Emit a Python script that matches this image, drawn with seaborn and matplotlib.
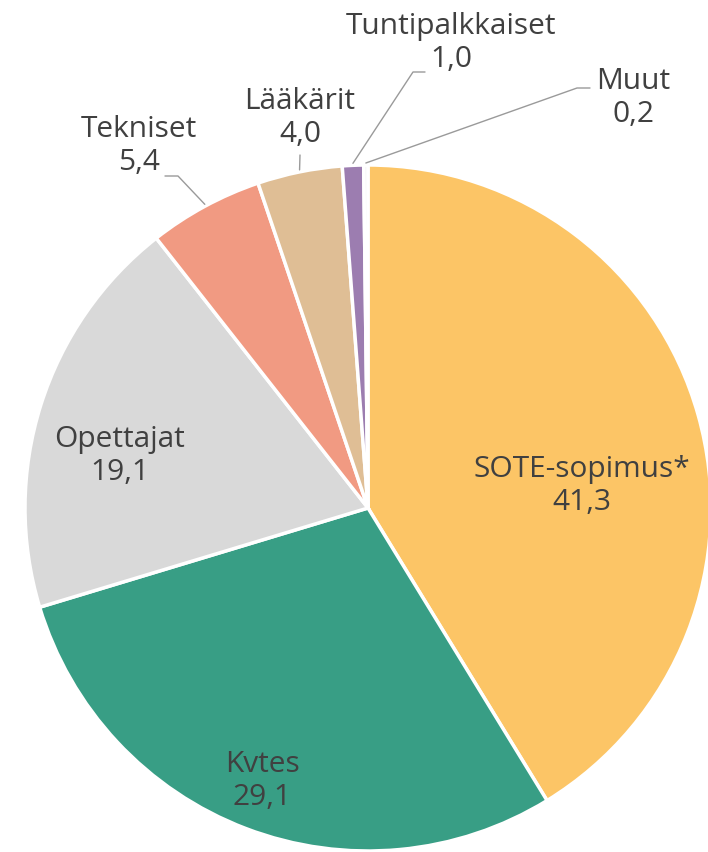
import numpy as np
import matplotlib
matplotlib.use("Agg")
import matplotlib.pyplot as plt
import seaborn as sns

# Data
categories = ["SOTE-sopimus*", "Kvtes", "Opettajat", "Tekniset", "Lääkärit", "Tuntipalkkaiset", "Muut"]
values = [41.3, 29.1, 19.1, 5.4, 4.0, 1.0, 0.2]
value_labels = ["41,3", "29,1", "19,1", "5,4", "4,0", "1,0", "0,2"]
colors = ["#FCC566", "#389E85", "#D9D9D9", "#F19A82", "#DFBE95", "#9C7DB0", "#F4F4F4"]

sns.set_theme(style="white")
plt.rcParams['font.family'] = ['Open Sans', 'DejaVu Sans']

W, H = 708, 852
fig = plt.figure(figsize=(W / 100, H / 100), dpi=100)
ax = fig.add_axes([0, 0, 1, 1])

cx, cy, r = 368, H - 508, 343
wedges, _ = ax.pie(values, colors=colors, startangle=90, counterclock=False,
                   center=(cx, cy), radius=r,
                   wedgeprops=dict(edgecolor="white", linewidth=2.5))
ax.set_xlim(0, W)
ax.set_ylim(0, H)
ax.set_aspect("equal")
ax.axis("off")

txt_color = "#404040"
fs = 21.5

# label block centres (pixels from top-left)
inside = {0: (582, 486), 1: (262, 781), 2: (120, 456)}
for i, (x, y) in inside.items():
    ax.text(x, H - y, f"{categories[i]}\n{value_labels[i]}", ha="center", va="center",
            fontsize=fs, color=txt_color, linespacing=1.2)

outside = {3: (139, 146), 4: (300, 118), 5: (451, 43), 6: (633, 98)}
for i, (x, y) in outside.items():
    ax.text(x, H - y, f"{categories[i]}\n{value_labels[i]}", ha="center", va="center",
            fontsize=fs, color=txt_color, linespacing=1.2)


def edge_point(w):
    ang = np.deg2rad((w.theta1 + w.theta2) / 2)
    return cx + r * np.cos(ang), cy + r * np.sin(ang)


line_kw = dict(color="#9a9a9a", lw=1.0)
# leader lines: wedge edge -> elbow -> end (pixels from top)
leaders = {
    3: [(178, 176), (165, 176)],
    4: [(300, 155)],
    5: [(413, 72), (425, 72)],
    6: [(577, 88), (590, 88)],
}
for i, pts in leaders.items():
    ex, ey = edge_point(wedges[i])
    xs = [ex] + [p[0] for p in pts]
    ys = [ey + 2] + [H - p[1] for p in pts]
    ax.plot(xs, ys, **line_kw)

fig.savefig("out.png", dpi=100, facecolor="white")
